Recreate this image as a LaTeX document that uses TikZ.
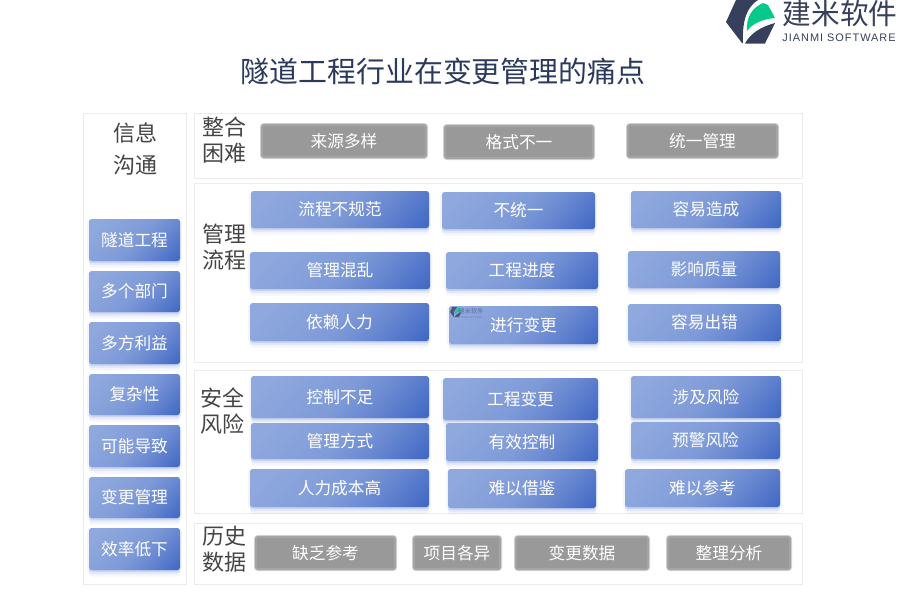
\documentclass[tikz,border=0pt]{standalone}
\usepackage{fontspec}
\setmainfont{Noto Sans CJK SC}
\newfontfamily\logolatin[LetterSpace=9]{Liberation Sans}
\usetikzlibrary{shadows}

\definecolor{titlenavy}{HTML}{2B3A5C}
\definecolor{logonavy}{HTML}{36405C}
\definecolor{logogreen}{HTML}{05C98A}
\definecolor{headgray}{HTML}{454545}
\definecolor{panelline}{HTML}{EBEBEB}
\definecolor{boxlight}{HTML}{8FA8DE}
\definecolor{boxmid}{HTML}{7F9BD8}
\definecolor{boxdeep}{HTML}{6A89D1}
\definecolor{boxdark}{HTML}{4169C4}
\definecolor{boxshadow}{HTML}{6C8CD8}
\definecolor{grayfill}{HTML}{999999}
\definecolor{grayrim}{HTML}{A4A4A4}
\definecolor{grayhalo}{HTML}{D6D6D6}

\pgfdeclarehorizontalshading{boxfade}{100bp}{
    color(0bp)=(boxlight); color(22bp)=(boxlight); color(50bp)=(boxmid);
    color(64bp)=(boxdeep); color(84bp)=(boxdark); color(100bp)=(boxdark)
}

% logo mark, drawn in picture pixels from its top left corner
\newcommand{\logomark}[3]{
    \begin{scope}[shift={(#1,#2)}, scale=#3, opacity=#3*0.3+0.7]
        \fill[logonavy] (10,0) -- (32,0) .. controls (21,7) and (16,20) .. (17,43) -- (16,43) -- (0,22) -- cycle;
        \fill[logonavy] (19,43.5) .. controls (24,34) and (34,27) .. (49,23) -- (39,43.5) -- cycle;
        \fill[logogreen] (21,31) .. controls (20,17) and (26,8) .. (37,3) -- (42,5) -- (49,18) .. controls (36,19) and (26,24) .. (21,31) -- cycle;
    \end{scope}
}

\begin{document}
\begin{tikzpicture}[
        x=0.75pt, y=-0.75pt,
        panel/.style={
            rectangle, draw=panelline, fill=white, line width=0.6pt, inner sep=0pt, outer sep=0pt,
            minimum width=#1*0.75pt
        },
        bluebox/.style 2 args={
            rectangle, rounded corners=2pt, inner sep=0pt, outer sep=0pt,
            minimum width=#1*0.75pt, minimum height=#2*0.75pt,
            shading=boxfade, shading angle=-42,
            text=white, font=\fontsize{12.5pt}{14pt}\selectfont,
            drop shadow={shadow xshift=1.5pt, shadow yshift=-1pt, fill=boxshadow, opacity=0.08},
            drop shadow={shadow xshift=-1.5pt, shadow yshift=-1pt, fill=boxshadow, opacity=0.08},
            drop shadow={shadow xshift=0pt, shadow yshift=-1.5pt, fill=boxshadow, opacity=0.14},
            drop shadow={shadow xshift=0pt, shadow yshift=-3pt, fill=boxshadow, opacity=0.12},
            drop shadow={shadow xshift=0pt, shadow yshift=-5pt, fill=boxshadow, opacity=0.07}
        },
        graybox/.style 2 args={
            rectangle, rounded corners=1.5pt, inner sep=0pt, outer sep=0pt,
            minimum width=#1*0.75pt-3pt, minimum height=#2*0.75pt-3pt,
            preaction={draw=grayhalo, line width=3pt},
            draw=grayrim, line width=1.6pt, fill=grayfill,
            text=white, font=\fontsize{12.5pt}{14pt}\selectfont
        },
        headlabel/.style={
            align=center, text=headgray, inner sep=0pt,
            font=\fontsize{16.5pt}{#1}\selectfont
        }
    ]
    \useasboundingbox (0,0) rectangle (900,600);

    % panels
    \node[panel=103, minimum height=353.25pt] (infopanel) at (134.5,348.5) {};
    \node[panel=608, minimum height=48.75pt] (mergepanel) at (498,145.5) {};
    \node[panel=608, minimum height=134.25pt] (flowpanel) at (498,272.5) {};
    \node[panel=608, minimum height=107.25pt] (riskpanel) at (498,441.5) {};
    \node[panel=608, minimum height=45.75pt] (historypanel) at (498,553.5) {};

    % logo and title
    \logomark{726}{0}{1}
    \node[text=logonavy, inner sep=0pt, font=\fontsize{21.5pt}{24pt}\selectfont] (logotext) at (840,14) {建米软件};
    \node[text=logonavy, inner sep=0pt, font=\logolatin\fontsize{8.2pt}{9pt}\selectfont] (logolatin) at (839,38) {JIANMI SOFTWARE};
    \node[text=titlenavy, inner sep=0pt, font=\fontsize{21.7pt}{24pt}\selectfont] (title) at (443,71) {隧道工程行业在变更管理的痛点};

    % headings
    \node[headlabel=24pt] (infohead) at (135,149) {信息\\沟通};
    \node[headlabel=19.5pt] (mergehead) at (224,140) {整合\\困难};
    \node[headlabel=19.5pt] (flowhead) at (224,247) {管理\\流程};
    \node[headlabel=19.5pt] (riskhead) at (222,411) {安全\\风险};
    \node[headlabel=19.5pt] (historyhead) at (224,549) {历史\\数据};

    % left column
    \node[bluebox={91}{42}] (tunnel) at (134.5,240) {隧道工程};
    \node[bluebox={91}{41}] (depts) at (134.5,291.5) {多个部门};
    \node[bluebox={91}{42}] (parties) at (134.5,343) {多方利益};
    \node[bluebox={91}{41}] (complex) at (134.5,394.5) {复杂性};
    \node[bluebox={91}{42}] (maylead) at (134.5,446) {可能导致};
    \node[bluebox={91}{41}] (changemgmt) at (134.5,497.5) {变更管理};
    \node[bluebox={91}{42}] (lowspeed) at (134.5,549) {效率低下};

    % merge row
    \node[graybox={168}{36}] (sources) at (344,141) {来源多样};
    \node[graybox={152}{36}] (formats) at (519,142) {格式不一};
    \node[graybox={153}{36}] (unified) at (702.5,141) {统一管理};

    % flow rows
    \node[bluebox={178}{37}] (irregular) at (340,209.5) {流程不规范};
    \node[bluebox={153}{37}] (notsame) at (518.5,210.5) {不统一};
    \node[bluebox={150}{37}] (causes) at (706,209.5) {容易造成};
    \node[bluebox={180}{37}] (chaos) at (340,270.5) {管理混乱};
    \node[bluebox={152}{37}] (progress) at (522,270.5) {工程进度};
    \node[bluebox={152}{37}] (quality) at (704,269.5) {影响质量};
    \node[bluebox={179}{38}] (manpower) at (339.5,322) {依赖人力};
    \node[bluebox={149}{38}] (dochange) at (523.5,325) {进行变更};
    \node[bluebox={153}{37}] (mistakes) at (704.5,322.5) {容易出错};

    % watermark on the change box
    \logomark{450}{307}{0.23}
    \node[text=logonavy, opacity=0.55, inner sep=0pt, font=\fontsize{4.6pt}{5pt}\selectfont] (marktext) at (471,311) {建米软件};
    \node[text=logonavy, opacity=0.35, inner sep=0pt, font=\fontsize{2pt}{2pt}\selectfont] (marklatin) at (471,318) {JIANMI SOFTWARE};

    % risk rows
    \node[bluebox={178}{42}] (lackctrl) at (340,397) {控制不足};
    \node[bluebox={155}{42}] (engchange) at (520.5,399) {工程变更};
    \node[bluebox={150}{42}] (involves) at (706,397) {涉及风险};
    \node[bluebox={178}{36}] (method) at (340,441) {管理方式};
    \node[bluebox={152}{38}] (effective) at (522,442) {有效控制};
    \node[bluebox={149}{37}] (warning) at (705.5,440.5) {预警风险};
    \node[bluebox={179}{38}] (laborcost) at (339.5,488) {人力成本高};
    \node[bluebox={148}{39}] (hardborrow) at (522,488.5) {难以借鉴};
    \node[bluebox={155}{38}] (hardrefer) at (702.5,488) {难以参考};

    % history row
    \node[graybox={143}{36}] (lackrefer) at (325.5,553) {缺乏参考};
    \node[graybox={90}{36}] (projects) at (457,553) {项目各异};
    \node[graybox={136}{36}] (changedata) at (582,553) {变更数据};
    \node[graybox={126}{36}] (analysis) at (729,553) {整理分析};
\end{tikzpicture}
\end{document}
